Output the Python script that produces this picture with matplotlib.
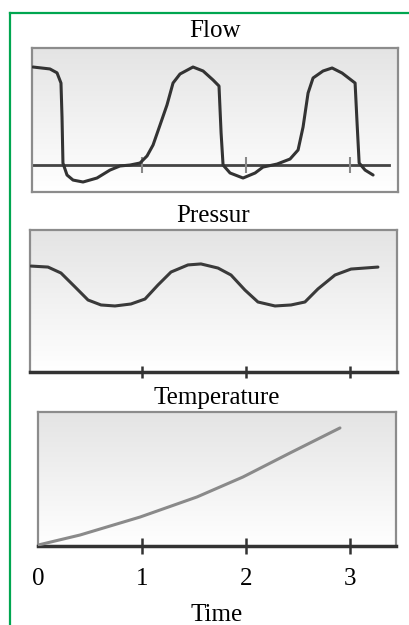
import numpy as np
import matplotlib
matplotlib.use('Agg')
import matplotlib.pyplot as plt
from matplotlib.lines import Line2D

plt.rcParams['font.family'] = 'Liberation Serif'

# flow trace (time, flow)
flow_t = [-0.048, 0.115, 0.183, 0.221, 0.231, 0.240, 0.279, 0.337, 0.433, 0.567,
          0.692, 0.788, 0.885, 0.981, 1.048, 1.106, 1.173, 1.240, 1.298, 1.365,
          1.490, 1.587, 1.683, 1.740, 1.760, 1.779, 1.846, 1.971, 2.087, 2.163,
          2.298, 2.423, 2.500, 2.548, 2.596, 2.644, 2.740, 2.827, 2.923, 3.048,
          3.067, 3.087, 3.144, 3.221]
flow_v = [1.01, 0.99, 0.95, 0.845, 0.495, 0.02, -0.103, -0.155, -0.175, -0.134,
          -0.052, -0.010, 0.0, 0.021, 0.093, 0.206, 0.412, 0.619, 0.845, 0.938,
          1.01, 0.969, 0.876, 0.814, 0.330, 0.0, -0.082, -0.134, -0.082, -0.021,
          0.010, 0.062, 0.155, 0.392, 0.742, 0.897, 0.969, 1.0, 0.948, 0.845,
          0.433, 0.021, -0.052, -0.103]

# pressure trace
pres_t = [-0.067, 0.096, 0.221, 0.356, 0.481, 0.606, 0.740, 0.894, 1.029, 1.154,
          1.279, 1.442, 1.567, 1.731, 1.856, 1.990, 2.115, 2.279, 2.433, 2.567,
          2.692, 2.856, 3.010, 3.269]
pres_v = [0.746, 0.739, 0.697, 0.599, 0.507, 0.472, 0.465, 0.479, 0.514, 0.613,
          0.704, 0.754, 0.761, 0.732, 0.683, 0.577, 0.493, 0.465, 0.472, 0.493,
          0.585, 0.683, 0.725, 0.739]

# temperature trace
temp_t = [0.0, 0.404, 0.981, 1.529, 1.971, 2.423, 2.904]
temp_v = [0.007, 0.082, 0.216, 0.366, 0.515, 0.694, 0.881]

ticks = [0, 1, 2, 3]
titles = ['Flow', 'Pressur', 'Temperature']

fig = plt.figure(figsize=(4.1, 6.25), dpi=100)

ax1 = fig.add_axes([0.078, 0.6928, 0.893, 0.2304])
ax2 = fig.add_axes([0.0732, 0.4048, 0.895, 0.2272])
ax3 = fig.add_axes([0.0927, 0.1264, 0.873, 0.2144])

bg = matplotlib.colors.LinearSegmentedColormap.from_list('bg', ['#ffffff', '#e4e4e4'])
grad = np.linspace(1, 0, 256).reshape(-1, 1)
for ax in (ax1, ax2, ax3):
    ax.imshow(grad, cmap=bg, aspect='auto', extent=[0, 1, 0, 1],
              transform=ax.transAxes, zorder=0)
    for s in ax.spines.values():
        s.set_color('#8c8c8c')
        s.set_linewidth(1.6)
    ax.set_yticks([])

line_kw = dict(lw=2.2, solid_joinstyle='round', solid_capstyle='round', zorder=3)

# flow
ax1.set_xlim(-0.0577, 3.4615)
ax1.set_ylim(-0.278, 1.206)
ax1.plot([-0.058, 3.37], [0, 0], color='#444444', lw=2, zorder=2)
ax1.plot(ticks[1:], [0, 0, 0], ls='none', marker='|', ms=11, mew=1.5, color='#888888', zorder=2)
ax1.plot(flow_t, flow_v, color='#333333', **line_kw)
ax1.set_xticks([])
ax1.set_title(titles[0], fontsize=18, pad=8)

# pressure
ax2.set_xlim(-0.0769, 3.4519)
ax2.set_ylim(0, 1)
ax2.plot(pres_t, pres_v, color='#3a3a3a', **line_kw)
ax2.spines['bottom'].set_color('#333333')
ax2.spines['bottom'].set_linewidth(2.5)
ax2.set_xticks(ticks[1:])
ax2.set_xticklabels([])
ax2.tick_params(axis='x', direction='inout', length=8, width=1.8, color='#333333')
ax2.set_title(titles[1], fontsize=18, pad=6)

# temperature
ax3.set_xlim(0, 3.4423)
ax3.set_ylim(0, 1)
ax3.plot(temp_t, temp_v, color='#8a8a8a', **line_kw)
ax3.spines['bottom'].set_color('#333333')
ax3.spines['bottom'].set_linewidth(2.5)
ax3.set_xticks(ticks)
ax3.set_xticklabels([str(t) for t in ticks], fontsize=18)
ax3.tick_params(axis='x', direction='inout', length=12, width=1.8, color='#333333', pad=10)
ax3.get_xticklines()[0].set_visible(False)
ax3.set_xlabel('Time', fontsize=18, labelpad=10)
ax3.set_title(titles[2], fontsize=18, pad=6)

# green frame
fig.add_artist(Line2D([10 / 410, 10 / 410], [0, 1 - 13 / 625], color='#00a650', lw=1.6))
fig.add_artist(Line2D([10 / 410, 1], [1 - 13 / 625, 1 - 13 / 625], color='#00a650', lw=1.6))

fig.savefig('out.png', dpi=100)
